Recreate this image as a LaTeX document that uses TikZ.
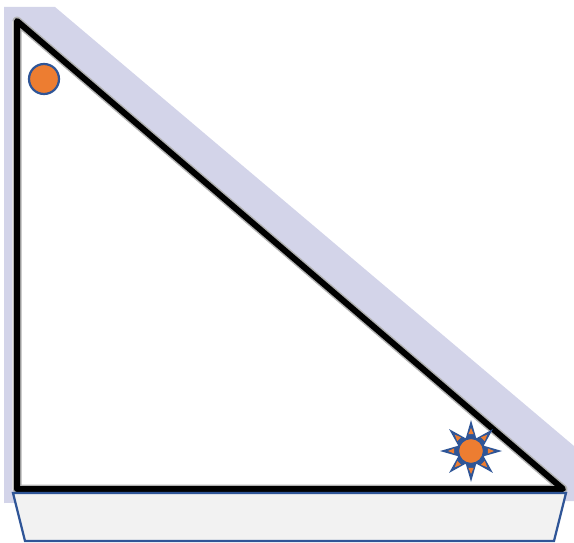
\documentclass[tikz,border=0pt]{standalone}
\definecolor{bandCol}{HTML}{D3D4E9}
\definecolor{trayCol}{HTML}{F2F2F2}
\definecolor{edgeBlue}{HTML}{2F5597}
\definecolor{ballCol}{HTML}{ED7D31}
\begin{document}
\begin{tikzpicture}[
    x=1pt, y=-1pt,
    rampline/.style={line join=round, line cap=round},
    ballnode/.style={circle, draw=edgeBlue, fill=ballCol, line width=2.2pt, inner sep=0pt}
]
\useasboundingbox (0,0) rectangle (574,543);

% --- 1. BAND ALONG THE RAMP ---
\fill[bandCol] (4,7) -- (55,7) -- (574,446) -- (574,501) -- (4,503) -- cycle;
\fill[white] (12,21) -- (12,490) -- (566,490) -- cycle;

% --- 2. TRIANGLE ---
\draw[rampline, line width=9pt, black!30] (17,21) -- (17,489) -- (563,489) -- cycle;
\draw[rampline, line width=6pt, black] (17,21) -- (17,489) -- (563,489) -- cycle;

% --- 3. TRAY ---
\draw[edgeBlue, fill=trayCol, line width=2.2pt] (13,493) -- (566,493) -- (554,541) -- (25,541) -- cycle;

% --- 4. BALL AT THE TOP ---
\node[ballnode, minimum size=30pt] (ballTop) at (44,79) {};

% --- 5. SHINING BALL AT THE BOTTOM ---
\begin{scope}[shift={(471,451)}]
    \foreach \a in {0,45,...,315} {
        \fill[edgeBlue] (\a:31) -- (\a+25:13) -- (\a-25:13) -- cycle;
        \fill[ballCol] (\a:23) -- (\a+9:17) -- (\a-9:17) -- cycle;
    }
\end{scope}
\node[ballnode, minimum size=26pt] (ballBottom) at (471,451) {};

\end{tikzpicture}
\end{document}
